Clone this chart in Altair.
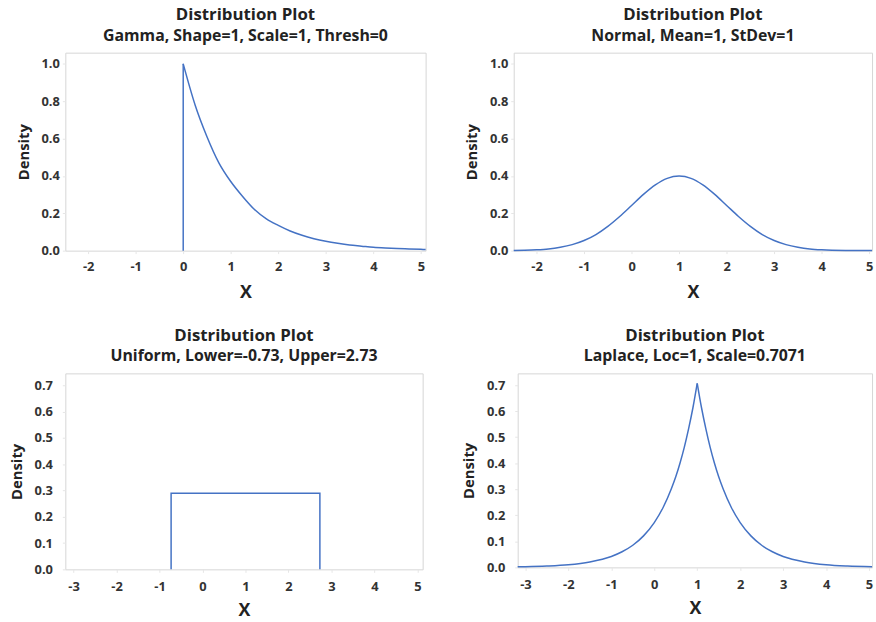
import altair as alt
import pandas as pd

FONT = "Open Sans"
BLUE = "#4472C4"

# ---- Data ----
gamma_x = [0, 0.25, 0.5, 0.75, 1, 1.25, 1.5, 1.75, 2, 2.25, 2.5, 2.75, 3, 3.25, 3.5, 3.75, 4, 4.25, 4.5, 4.75, 5, 5.1]
gamma_y = [1.0, 0.78, 0.61, 0.47, 0.37, 0.29, 0.22, 0.17, 0.135, 0.105, 0.082, 0.064, 0.05, 0.039, 0.03, 0.024, 0.018, 0.014, 0.011, 0.009, 0.007, 0.006]
gamma_jump_x = [0]
gamma_jump_y = [1.0]

normal_x = [-2.48, -2.25, -2, -1.75, -1.5, -1.25, -1, -0.75, -0.5, -0.25, 0, 0.25, 0.5, 0.75, 1,
            1.25, 1.5, 1.75, 2, 2.25, 2.5, 2.75, 3, 3.25, 3.5, 3.75, 4, 4.5, 5.06]
normal_y = [0.001, 0.002, 0.0044, 0.009, 0.018, 0.032, 0.054, 0.086, 0.130, 0.183, 0.242, 0.301, 0.352, 0.387, 0.399,
            0.387, 0.352, 0.301, 0.242, 0.183, 0.130, 0.086, 0.054, 0.032, 0.018, 0.009, 0.0044, 0.0009, 0.0001]

uniform_x = [-0.73, -0.73, 2.73, 2.73]
uniform_y = [0.0, 0.289, 0.289, 0.0]

laplace_left_x = [-3.18, -3, -2.5, -2, -1.5, -1, -0.75, -0.5, -0.25, 0, 0.2, 0.4, 0.5, 0.6, 0.7, 0.8, 0.9, 1]
laplace_left_y = [0.002, 0.0025, 0.005, 0.010, 0.021, 0.042, 0.060, 0.085, 0.121, 0.172, 0.228, 0.303, 0.348, 0.401, 0.462, 0.533, 0.613, 0.707]
laplace_right_x = [1, 1.1, 1.2, 1.3, 1.4, 1.5, 1.6, 1.8, 2, 2.25, 2.5, 2.75, 3, 3.5, 4, 4.5, 5.07]
laplace_right_y = [0.707, 0.613, 0.533, 0.462, 0.401, 0.348, 0.303, 0.228, 0.172, 0.121, 0.085, 0.060, 0.042, 0.021, 0.010, 0.005, 0.0025]

titles = [
    "Gamma, Shape=1, Scale=1, Thresh=0",
    "Normal, Mean=1, StDev=1",
    "Uniform, Lower=-0.73, Upper=2.73",
    "Laplace, Loc=1, Scale=0.7071",
]
top_xticks = [-2, -1, 0, 1, 2, 3, 4, 5]
bottom_xticks = [-3, -2, -1, 0, 1, 2, 3, 4, 5]
top_yticks = [0.0, 0.2, 0.4, 0.6, 0.8, 1.0]
bottom_yticks = [0.0, 0.1, 0.2, 0.3, 0.4, 0.5, 0.6, 0.7]


def df(xs, ys, part="a"):
    return pd.DataFrame({"x": xs, "y": ys, "part": [part] * len(xs), "o": list(range(len(xs)))})


def axes(xdom, ydom, xt, yt, ylabpad=3, xtitlepad=10, xlabpad=7):
    x = alt.X("x:Q", title="X", scale=alt.Scale(domain=xdom, nice=False, zero=False),
              axis=alt.Axis(values=xt, labelExpr="'' + datum.value", titleFontSize=18,
                            titlePadding=xtitlepad, labelPadding=xlabpad))
    y = alt.Y("y:Q", title="Density", scale=alt.Scale(domain=ydom, nice=False),
              axis=alt.Axis(values=yt, format=".1f", titleFontSize=15, titlePadding=10,
                            labelOverlap=False, labelPadding=ylabpad))
    return x, y


def title(sub):
    return alt.TitleParams("Distribution Plot", subtitle=sub, anchor="middle", frame="group",
                           font=FONT, fontSize=17, fontWeight="bold", color="#222",
                           subtitleFont=FONT, subtitleFontSize=16, subtitleFontWeight="bold",
                           subtitleColor="#222", subtitlePadding=4, offset=8)


# Panel 1: Gamma
x1, y1 = axes([-2.48, 5.1], [0, 1.06], top_xticks, top_yticks)
g_curve = alt.Chart(df(gamma_x, gamma_y)).mark_line(color=BLUE, strokeWidth=1.5, interpolate="monotone").encode(
    x=x1, y=y1, order="o:Q")
g_jump = alt.Chart(pd.DataFrame({"x": gamma_jump_x, "y": gamma_jump_y})).mark_rule(color=BLUE, strokeWidth=1.5).encode(
    x=x1, y=y1, y2=alt.datum(0))
p1 = alt.layer(g_curve, g_jump).properties(width=364, height=200, title=title(titles[0]))

# Panel 2: Normal
x2, y2 = axes([-2.48, 5.06], [0, 1.06], top_xticks, top_yticks)
p2 = alt.Chart(df(normal_x, normal_y)).mark_line(color=BLUE, strokeWidth=1.5, interpolate="monotone").encode(
    x=x2, y=y2, order="o:Q").properties(width=362, height=200, title=title(titles[1]))

# Panel 3: Uniform
x3, y3 = axes([-3.19, 5.12], [0, 0.745], bottom_xticks, bottom_yticks, ylabpad=10, xtitlepad=9, xlabpad=8)
p3 = alt.Chart(df(uniform_x, uniform_y)).mark_line(color=BLUE, strokeWidth=1.5).encode(
    x=x3, y=y3, order="o:Q").properties(width=361, height=198, title=title(titles[2]))

# Panel 4: Laplace
x4, y4 = axes([-3.18, 5.07], [0, 0.745], bottom_xticks, bottom_yticks, ylabpad=10, xtitlepad=9, xlabpad=8)
lap = pd.concat([df(laplace_left_x, laplace_left_y, "left"), df(laplace_right_x, laplace_right_y, "right")])
p4 = alt.Chart(lap).mark_line(color=BLUE, strokeWidth=1.5, interpolate="monotone").encode(
    x=x4, y=y4, detail="part:N", order="o:Q").properties(width=358, height=196, title=title(titles[3]))

chart = alt.vconcat(
    alt.hconcat(p1, p2, spacing=34),
    alt.hconcat(p3, p4, spacing=37),
    spacing=24,
).configure_view(stroke="#d6d6d6", strokeWidth=1).configure_axis(
    domain=False, ticks=True, tickSize=3, tickColor="#e6e6e6",
    labelFont=FONT, labelFontSize=13, labelFontWeight="bold", labelColor="#333",
    titleFont=FONT, titleFontWeight="bold", titleColor="#222", labelPadding=3, grid=False,
).properties(padding={"left": 8, "top": 2, "right": 0, "bottom": 0})

chart.save("out.html", embed_options={"renderer": "svg", "actions": False})
